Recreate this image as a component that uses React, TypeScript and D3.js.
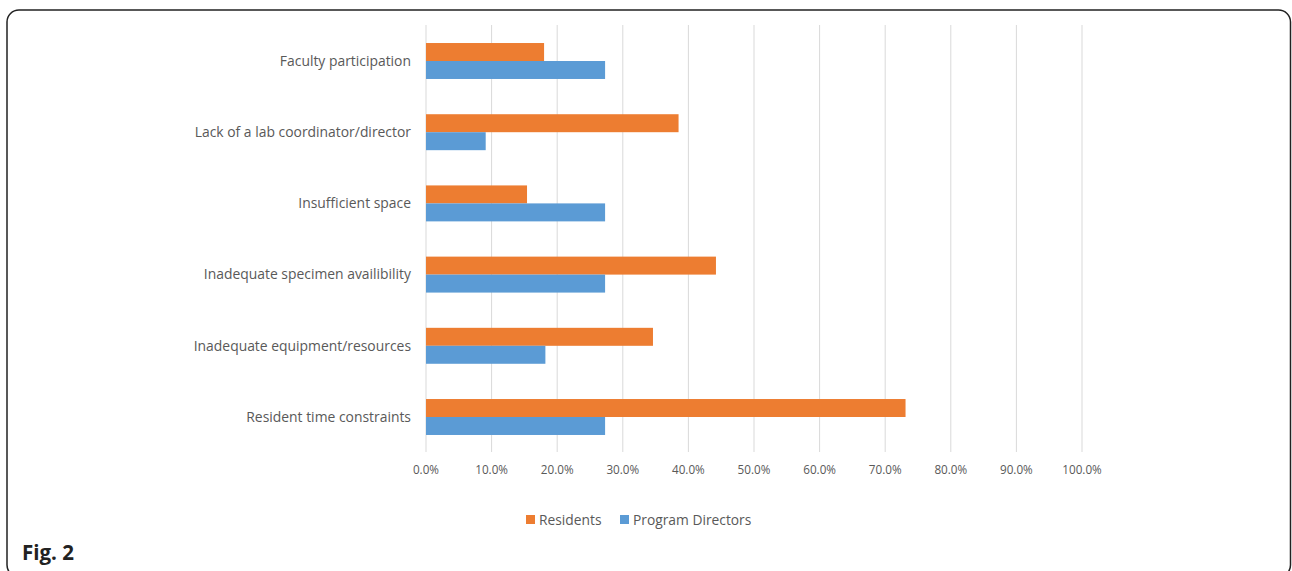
import React from "react";
import * as d3 from "d3";

const categories = [
  "Faculty participation",
  "Lack of a lab coordinator/director",
  "Insufficient space",
  "Inadequate specimen availibility",
  "Inadequate equipment/resources",
  "Resident time constraints",
];
const residents = [18.0, 38.5, 15.4, 44.2, 34.6, 73.1];
const programDirectors = [27.3, 9.1, 27.3, 27.3, 18.2, 27.3];
const seriesNames = ["Residents", "Program Directors"];
const seriesColors = ["#ED7D31", "#5B9BD5"];
const xTicks = [0, 10, 20, 30, 40, 50, 60, 70, 80, 90, 100];

const W = 1292;
const H = 571;
const FONT = "'Open Sans', 'DejaVu Sans', sans-serif";

export default function App() {
  const x = d3.scaleLinear().domain([0, 100]).range([426, 1082]);
  const y = d3.scaleBand<string>().domain(categories).range([25.4, 452.6]).paddingInner(0.495).paddingOuter(0.2475);
  const sub = d3.scaleBand<string>().domain(seriesNames).range([0, y.bandwidth()]);
  const data = [residents, programDirectors];

  return (
    <svg width={W} height={H} style={{ position: "absolute", left: 0, top: 0, background: "#fff" }}>
      <rect x={7} y={10} width={1283.5} height={567} rx={12} ry={12} fill="#fff" stroke="#222" strokeWidth={1.5} />
      {xTicks.map((t) => (
        <line key={t} x1={x(t)} x2={x(t)} y1={25} y2={452} stroke="#D9D9D9" strokeWidth={1} />
      ))}
      {categories.map((c, i) =>
        data.map((vals, s) => (
          <rect
            key={c + s}
            x={x(0)}
            y={(y(c) as number) + (sub(seriesNames[s]) as number)}
            width={x(vals[i]) - x(0)}
            height={sub.bandwidth()}
            fill={seriesColors[s]}
          />
        ))
      )}
      {categories.map((c) => (
        <text
          key={c}
          x={411}
          y={(y(c) as number) + y.bandwidth() / 2}
          dy="0.35em"
          textAnchor="end"
          fontFamily={FONT}
          fontSize={13.9}
          fill="#595959"
        >
          {c}
        </text>
      ))}
      {xTicks.map((t) => (
        <text
          key={"t" + t}
          x={x(t)}
          y={470}
          dy="0.35em"
          textAnchor="middle"
          fontFamily={FONT}
          fontSize={11.7}
          fill="#595959"
        >
          {d3.format(".1f")(t) + "%"}
        </text>
      ))}
      <g fontFamily={FONT} fontSize={13.8} fill="#595959">
        <rect x={526} y={515} width={9} height={9} fill={seriesColors[0]} />
        <text x={539} y={520} dy="0.35em">{seriesNames[0]}</text>
        <rect x={620} y={515} width={9} height={9} fill={seriesColors[1]} />
        <text x={633} y={520} dy="0.35em">{seriesNames[1]}</text>
      </g>
      <text x={22} y={560} fontFamily={FONT} fontWeight="bold" fontSize={20.5} fill="#222">
        Fig. 2
      </text>
    </svg>
  );
}
